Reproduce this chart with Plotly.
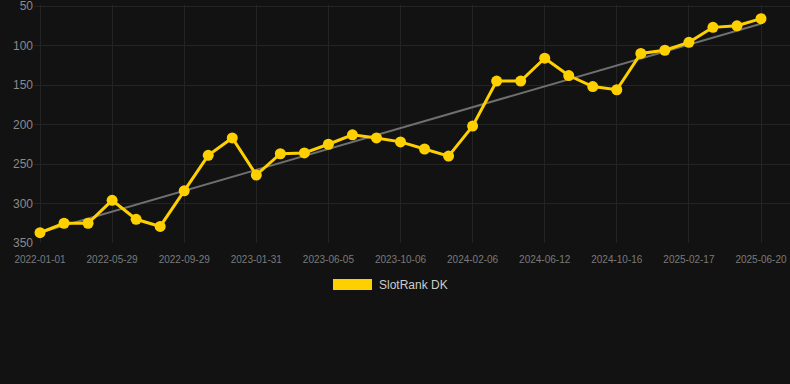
import numpy as np
import plotly.graph_objects as go

# Category dates (every third one is labelled on the axis)
dates = [
    "2022-01-01", "2022-02-19", "2022-04-09",
    "2022-05-29", "2022-07-09", "2022-08-19",
    "2022-09-29", "2022-11-10", "2022-12-21",
    "2023-01-31", "2023-03-13", "2023-04-24",
    "2023-06-05", "2023-07-16", "2023-08-26",
    "2023-10-06", "2023-11-16", "2023-12-27",
    "2024-02-06", "2024-03-19", "2024-05-01",
    "2024-06-12", "2024-07-24", "2024-09-04",
    "2024-10-16", "2024-11-27", "2025-01-07",
    "2025-02-17", "2025-03-30", "2025-05-10",
    "2025-06-20",
]
tick_labels = ["2022-01-01", "2022-05-29", "2022-09-29", "2023-01-31", "2023-06-05",
               "2023-10-06", "2024-02-06", "2024-06-12", "2024-10-16", "2025-02-17",
               "2025-06-20"]
rank = [337, 325, 325, 296, 320, 329, 284, 239, 217, 264,
        237, 236, 225, 213, 217, 222, 231, 240, 202, 145,
        145, 116, 138, 152, 156, 110, 106, 96, 77, 75, 66]
series_name = "SlotRank DK"
y_ticks = [50, 100, 150, 200, 250, 300, 350]

# Linear trend computed from the data
idx = np.arange(len(rank))
slope, intercept = np.polyfit(idx, rank, 1)
trend = [intercept, intercept + slope * idx[-1]]

YELLOW = "#FFD000"
BG = "#121212"
GRID = "#242424"

fig = go.Figure()
fig.add_trace(go.Scatter(
    x=[dates[0], dates[-1]], y=trend, mode="lines",
    line=dict(color="#6f6f6f", width=2), showlegend=False, hoverinfo="skip"))
fig.add_trace(go.Scatter(
    x=dates, y=rank, mode="lines+markers", name=series_name,
    line=dict(color=YELLOW, width=3), marker=dict(color=YELLOW, size=11),
    showlegend=False))

L, R, T, B = 34, 0, 5, 141
W, H = 790, 384
pw = W - L - R
ph = H - T - B

def px(x):
    return (x - L) / pw

def py(y):
    return (H - B - y) / ph

fig.add_shape(type="rect", xref="paper", yref="paper",
              x0=px(333), x1=px(372), y0=py(290), y1=py(279),
              fillcolor=YELLOW, line=dict(width=0))
fig.add_annotation(xref="paper", yref="paper", x=px(377), y=py(284.5),
                   xanchor="left", yanchor="middle", text=series_name,
                   showarrow=False, font=dict(size=12, color="#cccccc"))

fig.update_layout(
    width=W, height=H,
    margin=dict(l=L, r=R, t=T, b=B, pad=0),
    paper_bgcolor=BG, plot_bgcolor=BG,
    font=dict(family="Liberation Sans, Arial, sans-serif"),
    showlegend=False,
)
fig.update_xaxes(
    type="category", categoryorder="array", categoryarray=dates,
    range=[-0.25, (W - 40) / ((761 - 40) / 30)],
    tickvals=tick_labels, ticktext=tick_labels,
    showgrid=True, gridcolor=GRID, gridwidth=1,
    zeroline=False, showline=False, ticks="",
    ticklabelstandoff=9,
    tickfont=dict(size=10, color="#7a7a7a"),
)
fig.update_yaxes(
    range=[350, 48.7], tickvals=y_ticks,
    showgrid=True, gridcolor=GRID, gridwidth=1,
    zeroline=False, showline=False, ticks="",
    ticklabeloverflow="allow",
    tickfont=dict(size=12, color="#8a8a8a"),
)

fig.write_html("out.html")
